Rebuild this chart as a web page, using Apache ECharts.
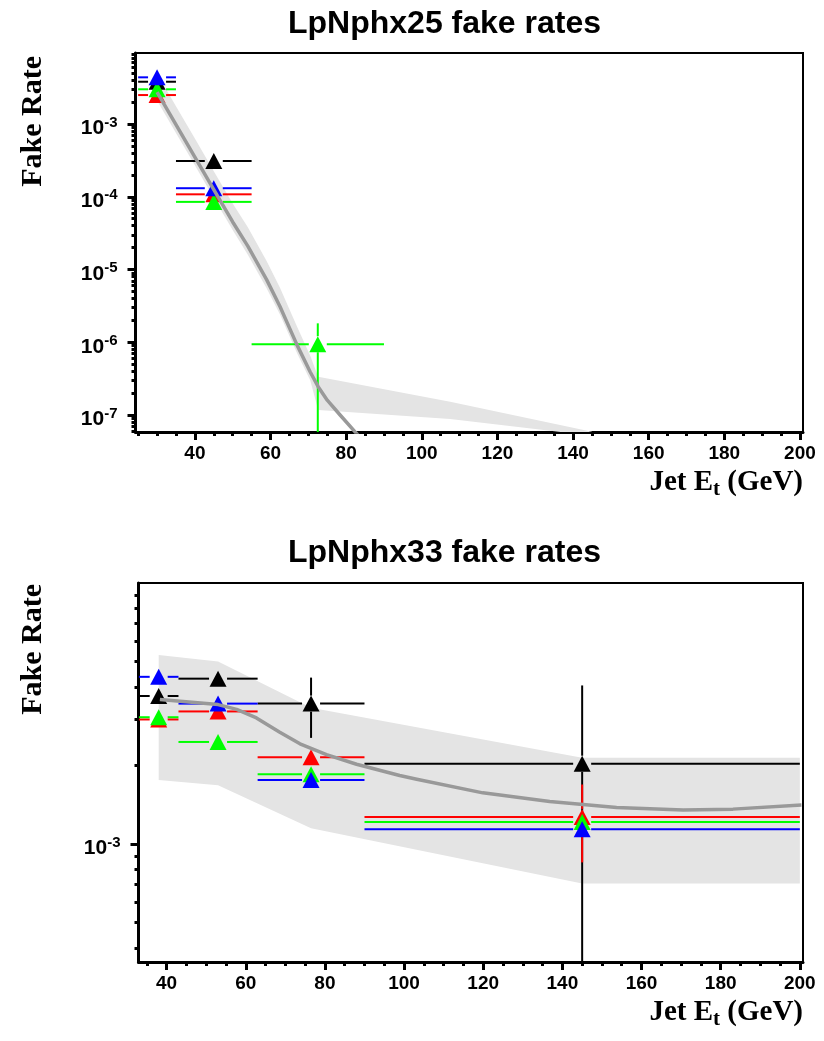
<!DOCTYPE html>
<html><head><meta charset="utf-8">
<script src="https://cdn.jsdelivr.net/npm/echarts@6/dist/echarts.min.js"></script>
<style>html,body{margin:0;padding:0;background:#fff}#c{width:824px;height:1041px}</style>
</head><body><div id="c"></div>
<script>
// ===== LpNphx25 (top panel) =====
const binCenter25 = [30, 45, 72.5, 145];
const binLow25    = [25, 35, 55, 90];
const binHigh25   = [35, 55, 90, 200];
const black25 = [3.81e-3, 3.1e-4, null, null];
const red25   = [2.5e-3, 1.08e-4, null, null];
const green25 = [3.0e-3, 8.5e-5, 9.4e-7, null];
const blue25  = [4.38e-3, 1.31e-4, null, null];
const green25ErrHigh = [null, null, 1.82e-6, null];
const green25ErrLow  = [null, null, 0, null];      // 0 = extends to the bottom
const curveX25   = [30, 35, 40, 45, 50, 54, 59, 62.5, 67, 70.5, 72.6, 75, 78.4, 82.3, 86];
const curveVal25 = [2.75e-3, 9.8e-4, 3.5e-4, 1.25e-4, 4.5e-5, 2.1e-5, 7.2e-6, 3.1e-6, 9.2e-7, 3.9e-7, 2.45e-7, 1.6e-7, 1.0e-7, 5.9e-8, 3.7e-8];
const bandX25a  = [30, 35, 40, 45, 50, 54, 59, 62.5, 67, 70.5, 72.6];
const bandUp25a = [4.9e-3, 1.76e-3, 6.3e-4, 2.25e-4, 8.1e-5, 3.8e-5, 1.3e-5, 5.6e-6, 1.65e-6, 6.5e-7, 3.36e-7];
const bandLo25a = [2.1e-3, 7.5e-4, 2.7e-4, 9.6e-5, 3.5e-5, 1.6e-5, 5.5e-6, 2.4e-6, 7.1e-7, 3.0e-7, 1.17e-7];
const bandX25b  = [72.6, 107.5, 145];
const bandUp25b = [3.36e-7, 1.52e-7, 5.9e-8];
const bandLo25b = [1.17e-7, 8.8e-8, 5.2e-8];

// ===== LpNphx33 (bottom panel) =====
const binCenter33 = [38, 53, 76.5, 145];
const binLow33    = [33, 43, 63, 90];
const binHigh33   = [43, 63, 90, 200];
const black33 = [3.69e-3, 4.3e-3, 3.45e-3, 2.03e-3];
const red33   = [3.0e-3, 3.22e-3, 2.15e-3, 1.27e-3];
const green33 = [3.06e-3, 2.46e-3, 1.85e-3, 1.215e-3];
const blue33  = [4.37e-3, 3.45e-3, 1.76e-3, 1.14e-3];
const black33ErrHigh = [null, null, 4.34e-3, 4.05e-3];
const black33ErrLow  = [null, null, 2.55e-3, 0];
const red33ErrHigh   = [null, null, null, 1.69e-3];
const red33ErrLow    = [null, null, null, 8.5e-4];
const curveX33   = [38.3, 53, 57.7, 62.7, 68.6, 73.7, 80.4, 88, 98.9, 103.2, 119.9, 136.8, 153.7, 170.5, 183.1, 200.4];
const curveVal33 = [3.58e-3, 3.42e-3, 3.28e-3, 3.04e-3, 2.68e-3, 2.42e-3, 2.2e-3, 2.02e-3, 1.83e-3, 1.77e-3, 1.57e-3, 1.455e-3, 1.38e-3, 1.35e-3, 1.36e-3, 1.41e-3];
const bandX33  = [38, 53, 76.5, 145, 200];
const bandUp33 = [5.3e-3, 5.0e-3, 3.33e-3, 2.14e-3, 2.14e-3];
const bandLo33 = [1.76e-3, 1.68e-3, 1.15e-3, 7.06e-4, 7.06e-4];

// ===== axis ticks / labels =====
const xLabels = [40, 60, 80, 100, 120, 140, 160, 180, 200];
const xMinor  = [25, 30, 35, 45, 50, 55, 65, 70, 75, 85, 90, 95, 105, 110, 115, 125, 130, 135, 145, 150, 155, 165, 170, 175, 185, 190, 195];
const yLabels25 = [1e-7, 1e-6, 1e-5, 1e-4, 1e-3];
const yLabels33 = [1e-3];
const minorMult = [2, 3, 4, 5, 6, 7, 8, 9];
const decades = [1e-8, 1e-7, 1e-6, 1e-5, 1e-4, 1e-3];

const range25 = {xmin: 24.3, xmax: 200.8, ymin: 5.84e-8, ymax: 9.46e-3};
const range33 = {xmin: 32.9, xmax: 200.8, ymin: 3.53e-4, ymax: 1.0e-2};

function minorY(r) {
  const out = [];
  decades.forEach(d => minorMult.forEach(m => { const v = d * m; if (v > r.ymin && v < r.ymax) out.push(v); }));
  return out;
}
function minorX(r) { return xMinor.filter(v => v > r.xmin && v < r.xmax); }

const COL = {black: '#000000', red: '#ff0000', green: '#00ff00', blue: '#0000ff'};

function pointData(c, lo, hi, vals, eh, el) {
  const out = [];
  for (let i = 0; i < vals.length; i++) {
    if (vals[i] == null) continue;
    const h = eh && eh[i] != null ? eh[i] : -1;
    const l = el && el[i] != null ? el[i] : -1;
    out.push([c[i], vals[i], lo[i], hi[i], l, h]);
  }
  return out;
}

function errRender(color) {
  return function (params, api) {
    const cs = params.coordSys;
    const x = api.value(0), y = api.value(1), xl = api.value(2), xh = api.value(3), yl = api.value(4), yh = api.value(5);
    const c = api.coord([x, y]);
    const l = api.coord([xl, y]), r = api.coord([xh, y]);
    const gx = 9, gy = 8;
    const cx = v => Math.max(cs.x, Math.min(cs.x + cs.width, v));
    const cy = v => Math.max(cs.y, Math.min(cs.y + cs.height, v));
    const st = {stroke: color, lineWidth: 2};
    const ch = [];
    if (c[0] - gx > cx(l[0])) ch.push({type: 'line', shape: {x1: cx(l[0]), y1: c[1], x2: c[0] - gx, y2: c[1]}, style: st});
    if (cx(r[0]) > c[0] + gx) ch.push({type: 'line', shape: {x1: c[0] + gx, y1: c[1], x2: cx(r[0]), y2: c[1]}, style: st});
    if (yh > 0) {
      const t = cy(api.coord([x, yh])[1]);
      if (t < c[1] - gy) ch.push({type: 'line', shape: {x1: c[0], y1: t, x2: c[0], y2: c[1] - gy}, style: st});
    }
    if (yl >= 0) {
      const b = yl > 0 ? cy(api.coord([x, yl])[1]) : cs.y + cs.height;
      if (b > c[1] + gy) ch.push({type: 'line', shape: {x1: c[0], y1: c[1] + gy, x2: c[0], y2: b}, style: st});
    }
    return {type: 'group', children: ch};
  };
}

function bandRender(xs, ups, los) {
  return function (params, api) {
    if (params.dataIndex !== 0) return null;
    const pts = [];
    for (let i = 0; i < xs.length; i++) pts.push(api.coord([xs[i], ups[i]]));
    for (let i = xs.length - 1; i >= 0; i--) pts.push(api.coord([xs[i], los[i]]));
    return {type: 'polygon', shape: {points: pts}, style: {fill: '#e4e4e4'}};
  };
}

function bandSeries(g, xs, ups, los) {
  return {type: 'custom', xAxisIndex: g * 2, yAxisIndex: g * 2, clip: true, silent: true,
    data: xs.map((x, i) => [x, ups[i], los[i]]), encode: {x: 0, y: 1},
    renderItem: bandRender(xs, ups, los)};
}
function curveSeries(g, xs, vs) {
  return {type: 'line', xAxisIndex: g * 2, yAxisIndex: g * 2, smooth: false,
    symbol: 'none', clip: true, silent: true,
    lineStyle: {color: '#999999', width: 3.5, join: 'round'}, data: xs.map((x, i) => [x, vs[i]])};
}
function pointSeries(g, color, data) {
  return [
    {type: 'custom', xAxisIndex: g * 2, yAxisIndex: g * 2, silent: true, clip: false,
      data: data, encode: {x: 0, y: 1}, renderItem: errRender(color)},
    {type: 'scatter', xAxisIndex: g * 2, yAxisIndex: g * 2, silent: true,
      symbol: 'triangle', symbolSize: [17, 16], itemStyle: {color: color, opacity: 1},
      data: data.map(d => [d[0], d[1]])}
  ];
}

const labelRich = {
  b: {fontFamily: 'Liberation Sans', fontWeight: 'bold', fontSize: 21, color: '#000', lineHeight: 22},
  s: {fontFamily: 'Liberation Sans', fontWeight: 'bold', fontSize: 15, color: '#000', lineHeight: 15, padding: [0, 0, 12, 0]}
};
function expFmt(v) { return '{b|10}{s|' + Math.round(Math.log10(v)) + '}'; }

function axesFor(g, r, yLab) {
  const xs = [
    {type: 'value', gridIndex: g, position: 'bottom', min: r.xmin, max: r.xmax,
      axisLine: {lineStyle: {color: '#000', width: 3}},
      axisTick: {customValues: xLabels, length: 8, lineStyle: {color: '#000', width: 3}},
      axisLabel: {customValues: xLabels, color: '#000', fontFamily: 'Liberation Sans', fontWeight: 'bold', fontSize: 19, margin: 12},
      splitLine: {show: false}},
    {type: 'value', gridIndex: g, position: 'bottom', min: r.xmin, max: r.xmax,
      axisLine: {show: false},
      axisTick: {customValues: minorX(r), length: 4, lineStyle: {color: '#000', width: 3}},
      axisLabel: {show: false}, splitLine: {show: false}}
  ];
  const ys = [
    {type: 'log', gridIndex: g, position: 'left', min: r.ymin, max: r.ymax, logBase: 10,
      axisLine: {lineStyle: {color: '#000', width: 3}},
      axisTick: {customValues: yLab, length: 8, lineStyle: {color: '#000', width: 3}},
      axisLabel: {customValues: yLab, formatter: expFmt, rich: labelRich, fontSize: 21, fontWeight: 'bold',
        fontFamily: 'Liberation Sans', color: '#000', margin: 18, padding: [9, 0, 0, 0]},
      splitLine: {show: false}},
    {type: 'log', gridIndex: g, position: 'left', min: r.ymin, max: r.ymax, logBase: 10,
      axisLine: {show: false},
      axisTick: {customValues: minorY(r), length: 4, lineStyle: {color: '#000', width: 3}},
      axisLabel: {show: false}, splitLine: {show: false}}
  ];
  return {xs, ys};
}

const a0 = axesFor(0, range25, yLabels25);
const a1 = axesFor(1, range33, yLabels33);

const titleFont = {fontFamily: 'Liberation Sans', fontWeight: 'bold', fontSize: 32, color: '#000'};
const axRich = {
  a: {fontFamily: 'Liberation Serif', fontWeight: 'bold', fontSize: 29, color: '#000', lineHeight: 30},
  t: {fontFamily: 'Liberation Serif', fontWeight: 'bold', fontSize: 21, color: '#000', lineHeight: 21, padding: [14, 0, 0, 0]}
};

const option = {
  animation: false,
  backgroundColor: '#fff',
  title: [
    {text: 'LpNphx25 fake rates', left: 283, top: 3, textStyle: titleFont},
    {text: 'LpNphx33 fake rates', left: 283, top: 532, textStyle: titleFont},
    {text: '{a|Jet E}{t|t}{a| (GeV)}', right: 16, top: 463, textStyle: {rich: axRich}},
    {text: '{a|Jet E}{t|t}{a| (GeV)}', right: 16, top: 993, textStyle: {rich: axRich}}
  ],
  graphic: [
    {type: 'text', x: 33, y: 56, rotation: Math.PI / 2,
      style: {text: 'Fake Rate', font: 'bold 30px "Liberation Serif"', fill: '#000', textAlign: 'right', textVerticalAlign: 'middle'}},
    {type: 'text', x: 33, y: 584, rotation: Math.PI / 2,
      style: {text: 'Fake Rate', font: 'bold 30px "Liberation Serif"', fill: '#000', textAlign: 'right', textVerticalAlign: 'middle'}}
  ],
  grid: [
    {left: 135.5, top: 53, width: 667.5, height: 379, show: true, borderColor: '#000', borderWidth: 2, backgroundColor: 'transparent'},
    {left: 138.5, top: 583, width: 664.5, height: 379, show: true, borderColor: '#000', borderWidth: 2, backgroundColor: 'transparent'}
  ],
  xAxis: a0.xs.concat(a1.xs),
  yAxis: a0.ys.concat(a1.ys),
  series: [
    bandSeries(0, bandX25a, bandUp25a, bandLo25a),
    bandSeries(0, bandX25b, bandUp25b, bandLo25b),
    curveSeries(0, curveX25, curveVal25),
    ...pointSeries(0, COL.black, pointData(binCenter25, binLow25, binHigh25, black25)),
    ...pointSeries(0, COL.red, pointData(binCenter25, binLow25, binHigh25, red25)),
    ...pointSeries(0, COL.green, pointData(binCenter25, binLow25, binHigh25, green25, green25ErrHigh, green25ErrLow)),
    ...pointSeries(0, COL.blue, pointData(binCenter25, binLow25, binHigh25, blue25)),
    bandSeries(1, bandX33, bandUp33, bandLo33),
    curveSeries(1, curveX33, curveVal33),
    ...pointSeries(1, COL.black, pointData(binCenter33, binLow33, binHigh33, black33, black33ErrHigh, black33ErrLow)),
    ...pointSeries(1, COL.red, pointData(binCenter33, binLow33, binHigh33, red33, red33ErrHigh, red33ErrLow)),
    ...pointSeries(1, COL.green, pointData(binCenter33, binLow33, binHigh33, green33)),
    ...pointSeries(1, COL.blue, pointData(binCenter33, binLow33, binHigh33, blue33))
  ]
};

const chart = echarts.init(document.getElementById('c'), null, {renderer: 'canvas'});
chart.setOption(option);
</script>
</body></html>
